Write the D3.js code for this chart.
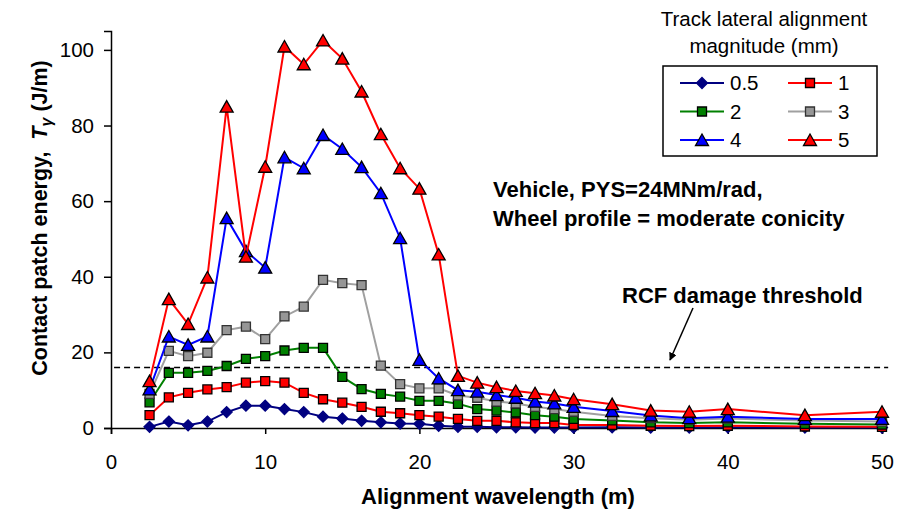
<!DOCTYPE html>
<html>
<head>
<meta charset="utf-8">
<script src="https://cdn.jsdelivr.net/npm/d3@7"></script>
<style>
  body { margin: 0; background: #fff; }
  text { font-family: "Liberation Sans", Arial, sans-serif; }
</style>
</head>
<body>
<div id="chart"></div>
<script>
// wavelengths (m) shared by all series
const wavelengths = [2.5, 3.75, 5, 6.25, 7.5, 8.75, 10, 11.25, 12.5, 13.75, 15, 16.25, 17.5, 18.75, 20,
  21.25, 22.5, 23.75, 25, 26.25, 27.5, 28.75, 30, 32.5, 35, 37.5, 40, 45, 50];

// contact patch energy per alignment magnitude
const mag05 = [0.3, 1.7, 0.7, 1.7, 4.2, 5.9, 5.9, 5.0, 4.2, 3.0, 2.5, 1.9, 1.5, 1.2, 1.1,
  0.6, 0.3, 0.3, 0.2, 0.2, 0.1, 0.1, 0.1, 0.2, 0.1, 0.1, 0.2, 0.1, 0.1];
const mag1 = [3.4, 8.1, 9.3, 10.2, 10.8, 12.0, 12.4, 12.0, 9.3, 7.6, 6.7, 5.6, 4.3, 3.9, 3.4,
  3.0, 2.4, 1.9, 1.9, 1.5, 1.3, 1.3, 0.8, 0.8, 0.6, 0.5, 0.6, 0.4, 0.3];
const mag2 = [6.8, 14.6, 14.6, 15.1, 16.4, 18.3, 19.0, 20.5, 21.2, 21.2, 13.5, 10.3, 9.0, 8.3, 7.2,
  7.2, 6.4, 5.0, 4.6, 4.1, 3.4, 3.0, 2.4, 2.0, 1.5, 1.3, 1.5, 1.1, 0.9];
const mag3 = [9.0, 20.4, 19.0, 19.9, 25.9, 26.8, 23.5, 29.5, 32.1, 39.2, 38.3, 37.8, 16.5, 11.6, 10.5,
  10.5, 8.6, 8.0, 7.0, 6.5, 5.6, 5.0, 4.3, 3.2, 2.6, 2.2, 2.5, 2.0, 1.7];
const mag4 = [10.2, 24.2, 22.0, 24.2, 55.5, 46.8, 42.4, 71.6, 68.7, 77.5, 73.8, 69.0, 62.1, 50.2, 18.0,
  13.1, 10.0, 9.6, 8.7, 8.0, 7.0, 6.5, 5.6, 4.5, 3.3, 2.6, 3.0, 2.4, 2.4];
const mag5 = [12.4, 34.1, 27.5, 39.8, 85.0, 45.3, 69.1, 100.9, 96.2, 102.5, 97.7, 89.0, 77.7, 68.7, 63.3,
  45.9, 13.8, 12.0, 10.8, 9.8, 9.2, 8.6, 7.6, 6.3, 4.6, 4.3, 5.0, 3.4, 4.3];

const seriesNames = ["0.5", "1", "2", "3", "4", "5"];
const xTicks = [0, 10, 20, 30, 40, 50];
const yTicks = [0, 20, 40, 60, 80, 100];
const threshold = 16;

const width = 909, height = 513;

const series = [
  { name: seriesNames[0], values: mag05, line: "#000080", fill: "#000080", stroke: "#000080", shape: "diamond" },
  { name: seriesNames[1], values: mag1, line: "#ff0000", fill: "#ff0000", stroke: "#000", shape: "square" },
  { name: seriesNames[2], values: mag2, line: "#008000", fill: "#008000", stroke: "#000", shape: "square" },
  { name: seriesNames[3], values: mag3, line: "#a0a0a0", fill: "#969696", stroke: "#333", shape: "square" },
  { name: seriesNames[4], values: mag4, line: "#0000ff", fill: "#0000ff", stroke: "#000", shape: "triangle" },
  { name: seriesNames[5], values: mag5, line: "#ff0000", fill: "#ff0000", stroke: "#000", shape: "triangle" }
];

// marker outlines, centred on their bounding box like Excel does
function markerPath(shape) {
  if (shape === "diamond") return "M0,-5.5L5.5,0L0,5.5L-5.5,0Z";
  if (shape === "square") return "M-4.5,-4.5H4.5V4.5H-4.5Z";
  return "M0,-6L6.5,5.5H-6.5Z";
}

const svg = d3.select("#chart").append("svg")
  .attr("width", width)
  .attr("height", height);

const x = d3.scaleLinear().domain([0, 50]).range([111, 882]);
const y = d3.scaleLinear().domain([0, 105]).range([428, 31]);

// axes
const xAxis = svg.append("g")
  .attr("transform", `translate(0,${y(0)})`)
  .call(d3.axisBottom(x).tickValues(xTicks).tickSizeOuter(0).tickSize(6).tickPadding(20));
const yAxis = svg.append("g")
  .attr("transform", `translate(${x(0)},0)`)
  .call(d3.axisLeft(y).tickValues(yTicks).tickSizeOuter(0).tickSize(7).tickPadding(10));

[xAxis, yAxis].forEach(g => {
  g.selectAll("path, line").attr("stroke", "#000").attr("stroke-width", 1.5);
  g.selectAll("text").attr("font-size", 20.5).attr("fill", "#000")
    .style("font-family", '"Liberation Sans", Arial, sans-serif');
});

// RCF threshold
svg.append("line")
  .attr("x1", x(0.2)).attr("x2", x(50.4))
  .attr("y1", y(threshold)).attr("y2", y(threshold))
  .attr("stroke", "#000").attr("stroke-width", 1.6)
  .attr("stroke-dasharray", "6,4");

// series: line then markers, later series on top
const line = d3.line()
  .x((d, i) => x(wavelengths[i]))
  .y(d => y(d));

series.forEach(s => {
  const g = svg.append("g");
  g.append("path")
    .attr("d", line(s.values))
    .attr("fill", "none")
    .attr("stroke", s.line)
    .attr("stroke-width", 2);
  g.selectAll("path.mk")
    .data(s.values)
    .join("path")
    .attr("class", "mk")
    .attr("d", markerPath(s.shape))
    .attr("transform", (d, i) => `translate(${x(wavelengths[i])},${y(d)})`)
    .attr("fill", s.fill)
    .attr("stroke", s.stroke)
    .attr("stroke-width", 1.3);
});

// axis titles
svg.append("text")
  .attr("x", 498).attr("y", 504)
  .attr("text-anchor", "middle")
  .attr("font-size", 22).attr("font-weight", "bold")
  .text("Alignment wavelength (m)");

const yTitle = svg.append("text")
  .attr("transform", "translate(47,218) rotate(-90)")
  .attr("text-anchor", "middle")
  .attr("font-size", 21.5).attr("font-weight", "bold");
yTitle.append("tspan").text("Contact patch energy,\u00a0\u00a0");
yTitle.append("tspan").attr("font-style", "italic").text("T");
yTitle.append("tspan").attr("font-style", "italic").attr("font-size", 16).attr("dy", 5).text("\u03b3");
yTitle.append("tspan").attr("dy", -5).text(" (J/m)");

// annotations
svg.append("text")
  .attr("x", 493).attr("y", 197)
  .attr("font-size", 22).attr("font-weight", "bold")
  .text("Vehicle, PYS=24MNm/rad,");
svg.append("text")
  .attr("x", 493).attr("y", 226)
  .attr("font-size", 22).attr("font-weight", "bold")
  .text("Wheel profile = moderate conicity");
svg.append("text")
  .attr("x", 622).attr("y", 303)
  .attr("font-size", 22).attr("font-weight", "bold")
  .text("RCF damage threshold");

svg.append("defs").append("marker")
  .attr("id", "arrow")
  .attr("viewBox", "0 0 10 10")
  .attr("refX", 9).attr("refY", 5)
  .attr("markerWidth", 8).attr("markerHeight", 8)
  .attr("markerUnits", "userSpaceOnUse")
  .attr("orient", "auto")
  .append("path")
  .attr("d", "M0,0L10,5L0,10Z")
  .attr("fill", "#000");
svg.append("line")
  .attr("x1", 693).attr("y1", 308)
  .attr("x2", 670).attr("y2", 360)
  .attr("stroke", "#000").attr("stroke-width", 1.5)
  .attr("marker-end", "url(#arrow)");

// legend
const legend = svg.append("g");
legend.append("text")
  .attr("x", 764).attr("y", 26)
  .attr("text-anchor", "middle").attr("font-size", 20.5)
  .text("Track lateral alignment");
legend.append("text")
  .attr("x", 764).attr("y", 53)
  .attr("text-anchor", "middle").attr("font-size", 20.5)
  .text("magnitude (mm)");
legend.append("rect")
  .attr("x", 663).attr("y", 66)
  .attr("width", 214).attr("height", 90)
  .attr("fill", "#fff").attr("stroke", "#000").attr("stroke-width", 1.5);

const legendItems = legend.selectAll("g.item")
  .data(series)
  .join("g")
  .attr("class", "item")
  .attr("transform", (d, i) => `translate(${i % 2 === 0 ? 680 : 788},${83 + Math.floor(i / 2) * 28.5})`);
legendItems.append("line")
  .attr("x1", 0).attr("x2", 44)
  .attr("stroke", d => d.line).attr("stroke-width", 2);
legendItems.append("path")
  .attr("d", d => markerPath(d.shape))
  .attr("transform", "translate(22,0)")
  .attr("fill", d => d.fill)
  .attr("stroke", d => d.stroke)
  .attr("stroke-width", 1.3);
legendItems.append("text")
  .attr("x", 50).attr("y", 7)
  .attr("font-size", 20.5)
  .text(d => d.name);
</script>
</body>
</html>
